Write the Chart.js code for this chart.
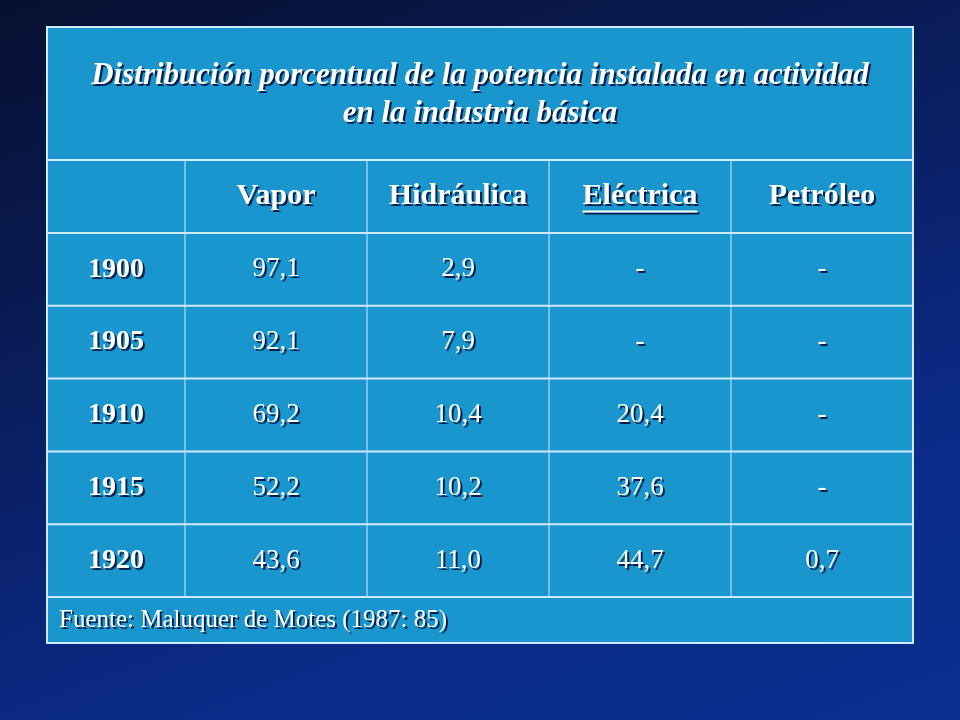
<!DOCTYPE html>
<html><head><meta charset="utf-8">
<script src="https://cdn.jsdelivr.net/npm/chart.js@4"></script>
<style>
html,body{margin:0;padding:0;width:960px;height:720px;overflow:hidden;
background:linear-gradient(160deg,#061030 0%,#0a1d5a 35%,#0b2a86 70%,#0a2f90 100%);}
canvas{display:block}
</style></head><body>
<canvas id="c" width="960" height="720"></canvas>
<script>
const title = ["Distribución porcentual de la potencia instalada en actividad","en la industria básica"];
const columns = ["Vapor","Hidráulica","Eléctrica","Petróleo"];
const years = ["1900","1905","1910","1915","1920"];
const vapor = ["97,1","92,1","69,2","52,2","43,6"];
const hidraulica = ["2,9","7,9","10,4","10,2","11,0"];
const electrica = ["-","-","20,4","37,6","44,7"];
const petroleo = ["-","-","-","-","0,7"];
const source = "Fuente: Maluquer de Motes (1987: 85)";
const series = [vapor, hidraulica, electrica, petroleo];

const T = {left:47, right:913, top:27, titleBottom:160, headBottom:233, bottom:643, srcTop:597, yearRight:185};

function txt(ctx, s, x, y, font, underline, align){
  ctx.font = font; ctx.textAlign=align||"center"; ctx.textBaseline="middle";
  ctx.fillStyle="rgba(0,10,50,0.85)"; ctx.fillText(s,x+2,y+2);
  ctx.fillStyle="#ffffff"; ctx.fillText(s,x,y);
  if(underline){ const w=ctx.measureText(s).width;
    ctx.fillStyle="rgba(0,10,50,0.85)"; ctx.fillRect(x-w/2+2,y+16,w,2);
    ctx.fillStyle="#ffffff"; ctx.fillRect(x-w/2,y+14,w,2); }
}

const tablePlugin = {
  id:'table',
  beforeDraw(chart){
    const ctx=chart.ctx;
    ctx.save();
    ctx.fillStyle="#1a96cf";
    ctx.fillRect(T.left,T.top,T.right-T.left,T.bottom-T.top);
    ctx.restore();
  },
  afterDraw(chart){
    const ctx=chart.ctx, xs=chart.scales.x, ys=chart.scales.y;
    ctx.save();
    ctx.strokeStyle="#cfe9f7"; ctx.lineWidth=2;
    ctx.strokeRect(T.left,T.top,T.right-T.left,T.bottom-T.top);
    const hline=y=>{ctx.beginPath();ctx.moveTo(T.left,y);ctx.lineTo(T.right,y);ctx.stroke();};
    hline(T.titleBottom); hline(T.headBottom);
    const rowH=(ys.bottom-ys.top)/years.length;
    for(let i=1;i<=years.length;i++) hline(ys.top+rowH*i);
    ctx.lineWidth=1;
    const vline=x=>{ctx.beginPath();ctx.moveTo(x,T.titleBottom);ctx.lineTo(x,T.srcTop);ctx.stroke();};
    vline(T.yearRight);
    const colW=(xs.right-xs.left)/columns.length;
    for(let i=1;i<columns.length;i++) vline(xs.left+colW*i);
    txt(ctx,title[0],(T.left+T.right)/2,76,"italic bold 31px 'Liberation Serif'",false);
    txt(ctx,title[1],(T.left+T.right)/2,114,"italic bold 31px 'Liberation Serif'",false);
    const hy=(T.titleBottom+T.headBottom)/2;
    columns.forEach((c,i)=>txt(ctx,c,xs.getPixelForValue(i),hy,"bold 30px 'Liberation Serif'",c==="Eléctrica"));
    years.forEach((yr,r)=>{
      const py=ys.getPixelForValue(r);
      txt(ctx,yr,(T.left+T.yearRight)/2,py,"bold 28px 'Liberation Serif'",false);
      series.forEach((s,ci)=>txt(ctx,s[r],xs.getPixelForValue(ci),py,"27px 'Liberation Serif'",false));
    });
    txt(ctx,source,T.left+12,(T.srcTop+T.bottom)/2,"25px 'Liberation Serif'",false,"left");
    ctx.restore();
  }
};

new Chart(document.getElementById('c'),{
  type:'bar',
  data:{labels:columns,datasets:[{data:columns.map(()=>0),backgroundColor:'transparent'}]},
  options:{
    responsive:false,animation:false,
    layout:{padding:{left:T.yearRight,right:960-T.right,top:T.headBottom,bottom:720-T.srcTop}},
    plugins:{legend:{display:false},tooltip:{enabled:false}},
    scales:{
      x:{type:'category',display:false,offset:true},
      y:{type:'category',labels:years,display:false,offset:true}
    }
  },
  plugins:[tablePlugin]
});
</script></body></html>
